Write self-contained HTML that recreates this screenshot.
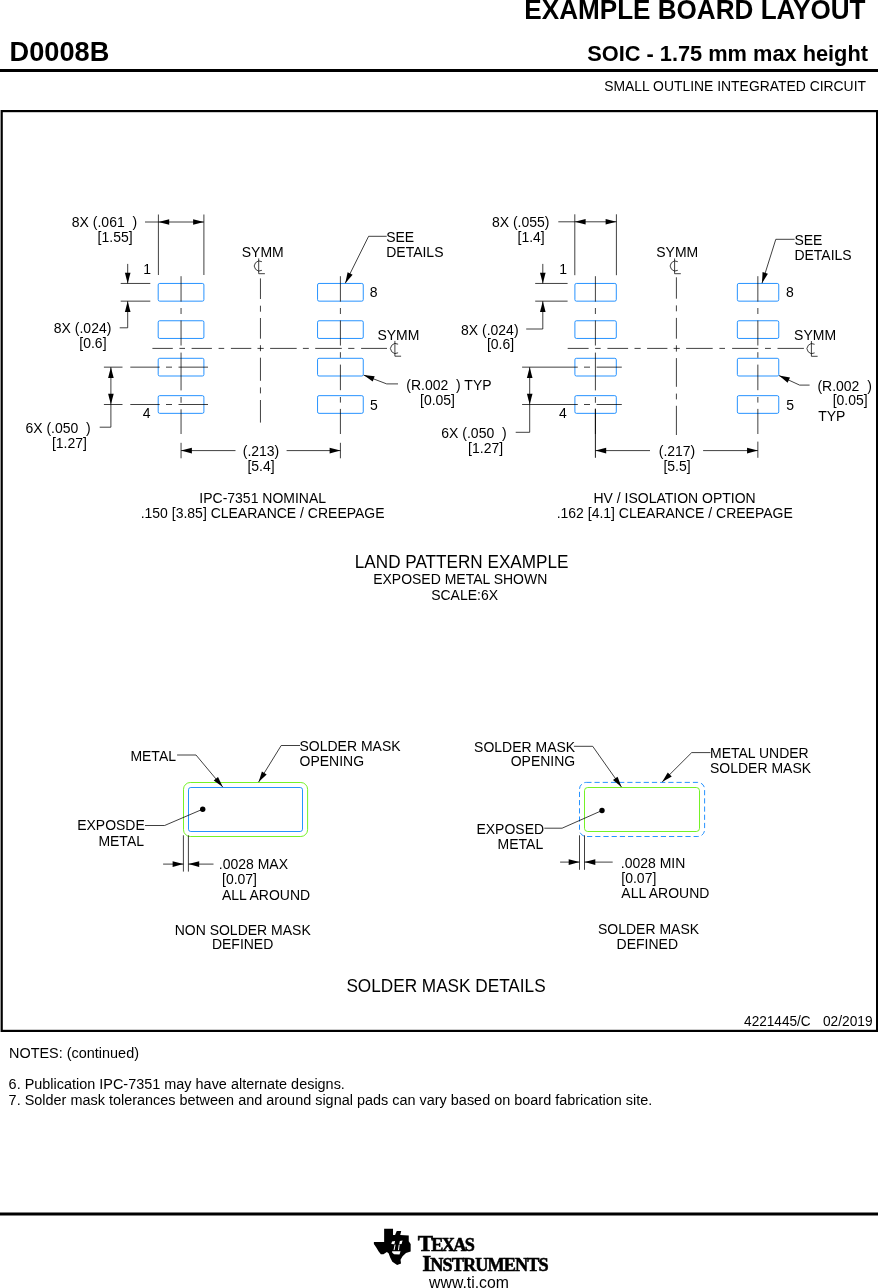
<!DOCTYPE html>
<html lang="en"><head><meta charset="utf-8"><title>D0008B Example Board Layout</title>
<style>html,body{margin:0;padding:0;background:#fff}body{width:878px;height:1288px;overflow:hidden}svg{display:block;will-change:transform}text{font-family:"Liberation Sans",sans-serif;font-size:14px;fill:#000;white-space:pre}</style>
</head><body>
<svg width="878" height="1288" viewBox="0 0 878 1288">
<rect width="878" height="1288" fill="#fff"/>
<text transform="translate(865.50 19.40) scale(1 1.03)" text-anchor="end" style="font-weight:bold;font-size:26.1px">EXAMPLE BOARD LAYOUT</text>
<text transform="translate(9.60 60.90) scale(1 1.03)" style="font-weight:bold;font-size:27.2px">D0008B</text>
<text transform="translate(868.00 61.30) scale(1 1.03)" text-anchor="end" style="font-weight:bold;font-size:21.8px">SOIC - 1.75 mm max height</text>
<line x1="0.00" y1="70.60" x2="878.00" y2="70.60" stroke="#000" stroke-width="3.0" />
<text transform="translate(866.00 90.90) scale(1 1.03)" text-anchor="end" style="font-size:13.9px">SMALL OUTLINE INTEGRATED CIRCUIT</text>
<rect x="1.7" y="111.1" width="875.4" height="919.8" fill="none" stroke="#000" stroke-width="2.2"/>
<rect x="158.20" y="283.45" width="45.70" height="17.70" rx="1.5" fill="none" stroke="#007fff" stroke-width="0.85" />
<rect x="158.20" y="320.75" width="45.70" height="17.70" rx="1.5" fill="none" stroke="#007fff" stroke-width="0.85" />
<rect x="158.20" y="358.30" width="45.70" height="17.70" rx="1.5" fill="none" stroke="#007fff" stroke-width="0.85" />
<rect x="158.20" y="395.65" width="45.70" height="17.70" rx="1.5" fill="none" stroke="#007fff" stroke-width="0.85" />
<rect x="317.55" y="283.45" width="45.70" height="17.70" rx="1.5" fill="none" stroke="#007fff" stroke-width="0.85" />
<rect x="317.55" y="320.75" width="45.70" height="17.70" rx="1.5" fill="none" stroke="#007fff" stroke-width="0.85" />
<rect x="317.55" y="358.30" width="45.70" height="17.70" rx="1.5" fill="none" stroke="#007fff" stroke-width="0.85" />
<rect x="317.55" y="395.65" width="45.70" height="17.70" rx="1.5" fill="none" stroke="#007fff" stroke-width="0.85" />
<line x1="181.05" y1="276.20" x2="181.05" y2="301.60" stroke="#000" stroke-width="0.75" />
<line x1="181.05" y1="308.00" x2="181.05" y2="314.00" stroke="#000" stroke-width="0.75" />
<line x1="181.05" y1="320.50" x2="181.05" y2="345.50" stroke="#000" stroke-width="0.75" />
<line x1="181.05" y1="352.60" x2="181.05" y2="390.40" stroke="#000" stroke-width="0.75" />
<line x1="181.05" y1="397.00" x2="181.05" y2="402.80" stroke="#000" stroke-width="0.75" />
<line x1="181.05" y1="409.30" x2="181.05" y2="434.00" stroke="#000" stroke-width="0.75" />
<line x1="340.40" y1="276.20" x2="340.40" y2="301.60" stroke="#000" stroke-width="0.75" />
<line x1="340.40" y1="308.00" x2="340.40" y2="314.00" stroke="#000" stroke-width="0.75" />
<line x1="340.40" y1="320.50" x2="340.40" y2="345.50" stroke="#000" stroke-width="0.75" />
<line x1="340.40" y1="352.20" x2="340.40" y2="357.80" stroke="#000" stroke-width="0.75" />
<line x1="340.40" y1="364.60" x2="340.40" y2="390.20" stroke="#000" stroke-width="0.75" />
<line x1="340.40" y1="397.00" x2="340.40" y2="402.60" stroke="#000" stroke-width="0.75" />
<line x1="340.40" y1="408.90" x2="340.40" y2="434.00" stroke="#000" stroke-width="0.75" />
<line x1="260.45" y1="278.40" x2="260.45" y2="299.00" stroke="#000" stroke-width="0.75" />
<line x1="260.45" y1="305.70" x2="260.45" y2="311.70" stroke="#000" stroke-width="0.75" />
<line x1="260.45" y1="318.00" x2="260.45" y2="338.70" stroke="#000" stroke-width="0.75" />
<line x1="260.45" y1="345.20" x2="260.45" y2="351.20" stroke="#000" stroke-width="0.75" />
<line x1="260.45" y1="357.70" x2="260.45" y2="380.80" stroke="#000" stroke-width="0.75" />
<line x1="260.45" y1="387.40" x2="260.45" y2="393.40" stroke="#000" stroke-width="0.75" />
<line x1="260.45" y1="400.00" x2="260.45" y2="422.60" stroke="#000" stroke-width="0.75" />
<line x1="152.40" y1="348.40" x2="172.80" y2="348.40" stroke="#000" stroke-width="0.75" />
<line x1="179.40" y1="348.40" x2="185.00" y2="348.40" stroke="#000" stroke-width="0.75" />
<line x1="191.60" y1="348.40" x2="211.90" y2="348.40" stroke="#000" stroke-width="0.75" />
<line x1="218.60" y1="348.40" x2="224.20" y2="348.40" stroke="#000" stroke-width="0.75" />
<line x1="230.90" y1="348.40" x2="251.30" y2="348.40" stroke="#000" stroke-width="0.75" />
<line x1="257.50" y1="348.40" x2="263.70" y2="348.40" stroke="#000" stroke-width="0.75" />
<line x1="270.10" y1="348.40" x2="296.70" y2="348.40" stroke="#000" stroke-width="0.75" />
<line x1="302.90" y1="348.40" x2="308.80" y2="348.40" stroke="#000" stroke-width="0.75" />
<line x1="315.20" y1="348.40" x2="341.80" y2="348.40" stroke="#000" stroke-width="0.75" />
<line x1="348.20" y1="348.40" x2="354.40" y2="348.40" stroke="#000" stroke-width="0.75" />
<line x1="361.10" y1="348.40" x2="387.00" y2="348.40" stroke="#000" stroke-width="0.75" />
<text transform="translate(262.70 257.00) scale(1 1.065)" text-anchor="middle">SYMM</text>
<path d="M261.90,261.70 A5,5 0 1 0 261.90,270.30" fill="none" stroke="#000" stroke-width="0.75"/>
<polyline points="258.70,258.40 258.70,273.70 264.90,273.70" fill="none" stroke="#000" stroke-width="0.75"/>
<text transform="translate(377.40 339.50) scale(1 1.065)">SYMM</text>
<path d="M398.10,344.20 A5,5 0 1 0 398.10,352.80" fill="none" stroke="#000" stroke-width="0.75"/>
<polyline points="394.90,340.90 394.90,356.20 401.10,356.20" fill="none" stroke="#000" stroke-width="0.75"/>
<line x1="158.40" y1="214.50" x2="158.40" y2="275.00" stroke="#000" stroke-width="0.75" />
<line x1="203.90" y1="214.50" x2="203.90" y2="275.00" stroke="#000" stroke-width="0.75" />
<line x1="145.00" y1="222.00" x2="203.90" y2="222.00" stroke="#000" stroke-width="0.75" />
<polygon points="158.40,222.00 169.20,219.20 169.20,224.80" fill="#000"/>
<polygon points="203.90,222.00 193.10,224.80 193.10,219.20" fill="#000"/>
<text transform="translate(71.80 227.40) scale(1 1.065)">8X (.061  )</text>
<text transform="translate(97.60 242.10) scale(1 1.065)">[1.55]</text>
<line x1="120.70" y1="283.45" x2="150.30" y2="283.45" stroke="#000" stroke-width="0.75" />
<line x1="120.70" y1="301.15" x2="150.30" y2="301.15" stroke="#000" stroke-width="0.75" />
<line x1="127.70" y1="263.90" x2="127.70" y2="283.45" stroke="#000" stroke-width="0.75" />
<polygon points="127.70,283.45 124.90,272.65 130.50,272.65" fill="#000"/>
<polyline points="127.70,301.15 127.70,327.80 119.70,327.80" fill="none" stroke="#000" stroke-width="0.75"/>
<polygon points="127.70,301.15 130.50,311.95 124.90,311.95" fill="#000"/>
<text transform="translate(53.80 332.80) scale(1 1.065)">8X (.024)</text>
<text transform="translate(79.30 347.80) scale(1 1.065)">[0.6]</text>
<text transform="translate(143.30 274.40) scale(1 1.065)">1</text>
<text transform="translate(142.70 417.70) scale(1 1.065)">4</text>
<text transform="translate(369.70 297.00) scale(1 1.065)">8</text>
<text transform="translate(370.10 410.00) scale(1 1.065)">5</text>
<line x1="103.90" y1="367.15" x2="122.50" y2="367.15" stroke="#000" stroke-width="0.75" />
<line x1="130.30" y1="367.15" x2="159.70" y2="367.15" stroke="#000" stroke-width="0.75" />
<line x1="166.00" y1="367.15" x2="172.00" y2="367.15" stroke="#000" stroke-width="0.75" />
<line x1="178.50" y1="367.15" x2="208.00" y2="367.15" stroke="#000" stroke-width="0.75" />
<line x1="103.90" y1="404.50" x2="122.50" y2="404.50" stroke="#000" stroke-width="0.75" />
<line x1="130.30" y1="404.50" x2="159.70" y2="404.50" stroke="#000" stroke-width="0.75" />
<line x1="166.00" y1="404.50" x2="172.00" y2="404.50" stroke="#000" stroke-width="0.75" />
<line x1="178.50" y1="404.50" x2="208.00" y2="404.50" stroke="#000" stroke-width="0.75" />
<polyline points="110.90,367.15 110.90,427.20 99.70,427.20" fill="none" stroke="#000" stroke-width="0.75"/>
<polygon points="110.90,367.15 113.70,377.95 108.10,377.95" fill="#000"/>
<polygon points="110.90,404.50 108.10,393.70 113.70,393.70" fill="#000"/>
<text transform="translate(25.40 433.30) scale(1 1.065)">6X (.050  )</text>
<text transform="translate(51.90 447.80) scale(1 1.065)">[1.27]</text>
<line x1="181.05" y1="442.80" x2="181.05" y2="458.30" stroke="#000" stroke-width="0.75" />
<line x1="340.40" y1="442.80" x2="340.40" y2="458.30" stroke="#000" stroke-width="0.75" />
<line x1="181.05" y1="450.60" x2="235.50" y2="450.60" stroke="#000" stroke-width="0.75" />
<line x1="286.60" y1="450.60" x2="340.40" y2="450.60" stroke="#000" stroke-width="0.75" />
<polygon points="181.05,450.60 191.85,447.80 191.85,453.40" fill="#000"/>
<polygon points="340.40,450.60 329.60,453.40 329.60,447.80" fill="#000"/>
<text transform="translate(261.00 455.80) scale(1 1.065)" text-anchor="middle">(.213)</text>
<text transform="translate(261.00 470.70) scale(1 1.065)" text-anchor="middle">[5.4]</text>
<text transform="translate(386.20 241.90) scale(1 1.065)">SEE</text>
<text transform="translate(386.20 256.90) scale(1 1.065)">DETAILS</text>
<polyline points="386.70,236.30 368.60,236.30 345.30,283.20" fill="none" stroke="#000" stroke-width="0.75"/>
<polygon points="345.30,283.20 347.60,272.28 352.61,274.77" fill="#000"/>
<polyline points="398.00,383.90 386.70,383.90 363.60,375.10" fill="none" stroke="#000" stroke-width="0.75"/>
<polygon points="363.60,375.10 374.69,376.33 372.70,381.56" fill="#000"/>
<text transform="translate(406.30 390.00) scale(1 1.065)">(R.002  ) TYP</text>
<text transform="translate(420.00 405.00) scale(1 1.065)">[0.05]</text>
<text transform="translate(262.70 503.00) scale(1 1.065)" text-anchor="middle">IPC-7351 NOMINAL</text>
<text transform="translate(262.60 518.10) scale(1 1.065)" text-anchor="middle">.150 [3.85] CLEARANCE / CREEPAGE</text>
<rect x="574.90" y="283.45" width="41.40" height="17.70" rx="1.5" fill="none" stroke="#007fff" stroke-width="0.85" />
<rect x="574.90" y="320.75" width="41.40" height="17.70" rx="1.5" fill="none" stroke="#007fff" stroke-width="0.85" />
<rect x="574.90" y="358.30" width="41.40" height="17.70" rx="1.5" fill="none" stroke="#007fff" stroke-width="0.85" />
<rect x="574.90" y="395.65" width="41.40" height="17.70" rx="1.5" fill="none" stroke="#007fff" stroke-width="0.85" />
<rect x="737.35" y="283.45" width="41.40" height="17.70" rx="1.5" fill="none" stroke="#007fff" stroke-width="0.85" />
<rect x="737.35" y="320.75" width="41.40" height="17.70" rx="1.5" fill="none" stroke="#007fff" stroke-width="0.85" />
<rect x="737.35" y="358.30" width="41.40" height="17.70" rx="1.5" fill="none" stroke="#007fff" stroke-width="0.85" />
<rect x="737.35" y="395.65" width="41.40" height="17.70" rx="1.5" fill="none" stroke="#007fff" stroke-width="0.85" />
<line x1="595.40" y1="276.20" x2="595.40" y2="301.60" stroke="#000" stroke-width="0.75" />
<line x1="595.40" y1="308.00" x2="595.40" y2="314.00" stroke="#000" stroke-width="0.75" />
<line x1="595.40" y1="320.50" x2="595.40" y2="345.50" stroke="#000" stroke-width="0.75" />
<line x1="595.40" y1="352.60" x2="595.40" y2="390.40" stroke="#000" stroke-width="0.75" />
<line x1="595.40" y1="397.00" x2="595.40" y2="402.80" stroke="#000" stroke-width="0.75" />
<line x1="595.40" y1="409.30" x2="595.40" y2="434.00" stroke="#000" stroke-width="0.75" />
<line x1="757.85" y1="276.20" x2="757.85" y2="301.60" stroke="#000" stroke-width="0.75" />
<line x1="757.85" y1="308.00" x2="757.85" y2="314.00" stroke="#000" stroke-width="0.75" />
<line x1="757.85" y1="320.50" x2="757.85" y2="345.50" stroke="#000" stroke-width="0.75" />
<line x1="757.85" y1="352.20" x2="757.85" y2="357.80" stroke="#000" stroke-width="0.75" />
<line x1="757.85" y1="364.60" x2="757.85" y2="390.20" stroke="#000" stroke-width="0.75" />
<line x1="757.85" y1="397.00" x2="757.85" y2="402.60" stroke="#000" stroke-width="0.75" />
<line x1="757.85" y1="408.90" x2="757.85" y2="434.00" stroke="#000" stroke-width="0.75" />
<line x1="676.40" y1="277.30" x2="676.40" y2="298.70" stroke="#000" stroke-width="0.75" />
<line x1="676.40" y1="305.40" x2="676.40" y2="311.30" stroke="#000" stroke-width="0.75" />
<line x1="676.40" y1="317.90" x2="676.40" y2="338.70" stroke="#000" stroke-width="0.75" />
<line x1="676.40" y1="345.30" x2="676.40" y2="351.60" stroke="#000" stroke-width="0.75" />
<line x1="676.40" y1="358.10" x2="676.40" y2="386.80" stroke="#000" stroke-width="0.75" />
<line x1="676.40" y1="393.60" x2="676.40" y2="399.40" stroke="#000" stroke-width="0.75" />
<line x1="676.40" y1="405.80" x2="676.40" y2="435.00" stroke="#000" stroke-width="0.75" />
<line x1="567.70" y1="348.40" x2="588.60" y2="348.40" stroke="#000" stroke-width="0.75" />
<line x1="595.10" y1="348.40" x2="600.70" y2="348.40" stroke="#000" stroke-width="0.75" />
<line x1="607.40" y1="348.40" x2="628.10" y2="348.40" stroke="#000" stroke-width="0.75" />
<line x1="634.50" y1="348.40" x2="640.70" y2="348.40" stroke="#000" stroke-width="0.75" />
<line x1="647.10" y1="348.40" x2="667.40" y2="348.40" stroke="#000" stroke-width="0.75" />
<line x1="673.60" y1="348.40" x2="679.80" y2="348.40" stroke="#000" stroke-width="0.75" />
<line x1="686.10" y1="348.40" x2="712.70" y2="348.40" stroke="#000" stroke-width="0.75" />
<line x1="719.40" y1="348.40" x2="725.00" y2="348.40" stroke="#000" stroke-width="0.75" />
<line x1="732.10" y1="348.40" x2="758.30" y2="348.40" stroke="#000" stroke-width="0.75" />
<line x1="765.00" y1="348.40" x2="770.90" y2="348.40" stroke="#000" stroke-width="0.75" />
<line x1="777.50" y1="348.40" x2="803.90" y2="348.40" stroke="#000" stroke-width="0.75" />
<text transform="translate(677.20 257.00) scale(1 1.065)" text-anchor="middle">SYMM</text>
<path d="M677.80,261.70 A5,5 0 1 0 677.80,270.30" fill="none" stroke="#000" stroke-width="0.75"/>
<polyline points="674.60,258.40 674.60,273.70 680.80,273.70" fill="none" stroke="#000" stroke-width="0.75"/>
<text transform="translate(794.10 339.60) scale(1 1.065)">SYMM</text>
<path d="M814.60,344.30 A5,5 0 1 0 814.60,352.90" fill="none" stroke="#000" stroke-width="0.75"/>
<polyline points="811.40,341.00 811.40,356.30 817.60,356.30" fill="none" stroke="#000" stroke-width="0.75"/>
<line x1="574.80" y1="214.30" x2="574.80" y2="275.20" stroke="#000" stroke-width="0.75" />
<line x1="616.40" y1="214.30" x2="616.40" y2="275.20" stroke="#000" stroke-width="0.75" />
<line x1="558.30" y1="221.80" x2="616.40" y2="221.80" stroke="#000" stroke-width="0.75" />
<polygon points="574.80,221.80 585.60,219.00 585.60,224.60" fill="#000"/>
<polygon points="616.40,221.80 605.60,224.60 605.60,219.00" fill="#000"/>
<text transform="translate(491.90 227.20) scale(1 1.065)">8X (.055)</text>
<text transform="translate(517.50 242.10) scale(1 1.065)">[1.4]</text>
<line x1="535.20" y1="283.45" x2="567.60" y2="283.45" stroke="#000" stroke-width="0.75" />
<line x1="535.20" y1="301.15" x2="567.60" y2="301.15" stroke="#000" stroke-width="0.75" />
<line x1="542.80" y1="263.90" x2="542.80" y2="283.45" stroke="#000" stroke-width="0.75" />
<polygon points="542.80,283.45 540.00,272.65 545.60,272.65" fill="#000"/>
<polyline points="542.80,301.15 542.80,329.00 526.20,329.00" fill="none" stroke="#000" stroke-width="0.75"/>
<polygon points="542.80,301.15 545.60,311.95 540.00,311.95" fill="#000"/>
<text transform="translate(461.00 334.60) scale(1 1.065)">8X (.024)</text>
<text transform="translate(486.90 349.00) scale(1 1.065)">[0.6]</text>
<text transform="translate(559.20 274.40) scale(1 1.065)">1</text>
<text transform="translate(559.00 417.70) scale(1 1.065)">4</text>
<text transform="translate(786.10 297.00) scale(1 1.065)">8</text>
<text transform="translate(786.30 410.30) scale(1 1.065)">5</text>
<line x1="522.10" y1="367.15" x2="577.80" y2="367.15" stroke="#000" stroke-width="0.75" />
<line x1="584.00" y1="367.15" x2="590.00" y2="367.15" stroke="#000" stroke-width="0.75" />
<line x1="596.60" y1="367.15" x2="621.80" y2="367.15" stroke="#000" stroke-width="0.75" />
<line x1="522.10" y1="404.50" x2="577.80" y2="404.50" stroke="#000" stroke-width="0.75" />
<line x1="584.00" y1="404.50" x2="590.00" y2="404.50" stroke="#000" stroke-width="0.75" />
<line x1="596.60" y1="404.50" x2="621.80" y2="404.50" stroke="#000" stroke-width="0.75" />
<polyline points="529.70,367.15 529.70,432.30 515.70,432.30" fill="none" stroke="#000" stroke-width="0.75"/>
<polygon points="529.70,367.15 532.50,377.95 526.90,377.95" fill="#000"/>
<polygon points="529.70,404.50 526.90,393.70 532.50,393.70" fill="#000"/>
<text transform="translate(441.30 438.30) scale(1 1.065)">6X (.050  )</text>
<text transform="translate(468.10 452.80) scale(1 1.065)">[1.27]</text>
<line x1="595.40" y1="408.60" x2="595.40" y2="457.80" stroke="#000" stroke-width="0.9" />
<line x1="757.85" y1="441.60" x2="757.85" y2="457.80" stroke="#000" stroke-width="0.75" />
<line x1="595.40" y1="450.60" x2="650.00" y2="450.60" stroke="#000" stroke-width="0.75" />
<line x1="703.10" y1="450.60" x2="757.85" y2="450.60" stroke="#000" stroke-width="0.75" />
<polygon points="595.40,450.60 606.20,447.80 606.20,453.40" fill="#000"/>
<polygon points="757.85,450.60 747.05,453.40 747.05,447.80" fill="#000"/>
<text transform="translate(677.00 455.90) scale(1 1.065)" text-anchor="middle">(.217)</text>
<text transform="translate(677.00 470.80) scale(1 1.065)" text-anchor="middle">[5.5]</text>
<text transform="translate(794.40 244.60) scale(1 1.065)">SEE</text>
<text transform="translate(794.40 259.60) scale(1 1.065)">DETAILS</text>
<polyline points="794.60,239.30 775.80,239.30 762.00,283.20" fill="none" stroke="#000" stroke-width="0.75"/>
<polygon points="762.00,283.20 762.57,272.06 767.91,273.74" fill="#000"/>
<polyline points="809.60,385.10 799.60,385.10 779.00,375.60" fill="none" stroke="#000" stroke-width="0.75"/>
<polygon points="779.00,375.60 789.98,377.58 787.63,382.67" fill="#000"/>
<text transform="translate(817.40 390.90) scale(1 1.065)">(R.002  )</text>
<text transform="translate(832.70 405.20) scale(1 1.065)">[0.05]</text>
<text transform="translate(818.20 420.70) scale(1 1.065)">TYP</text>
<text transform="translate(674.60 503.00) scale(1 1.065)" text-anchor="middle">HV / ISOLATION OPTION</text>
<text transform="translate(674.70 518.10) scale(1 1.065)" text-anchor="middle">.162 [4.1] CLEARANCE / CREEPAGE</text>
<text transform="translate(461.60 567.90) scale(1 1.03)" text-anchor="middle" style="font-size:17.15px">LAND PATTERN EXAMPLE</text>
<text transform="translate(460.20 583.70) scale(1 1.065)" text-anchor="middle">EXPOSED METAL SHOWN</text>
<text transform="translate(464.60 599.60) scale(1 1.065)" text-anchor="middle">SCALE:6X</text>
<rect x="183.50" y="782.50" width="124.10" height="54.00" rx="6.8" fill="none" stroke="#5cf000" stroke-width="0.85" />
<rect x="188.50" y="787.50" width="114.00" height="44.00" rx="2.3" fill="none" stroke="#007fff" stroke-width="0.85" />
<circle cx="202.7" cy="809.2" r="2.7" fill="#000"/>
<polyline points="202.70,809.20 164.60,825.50 145.00,825.50" fill="none" stroke="#000" stroke-width="0.75"/>
<text transform="translate(144.80 830.40) scale(1 1.065)" text-anchor="end">EXPOSDE</text>
<text transform="translate(144.00 845.50) scale(1 1.065)" text-anchor="end">METAL</text>
<text transform="translate(176.00 761.00) scale(1 1.065)" text-anchor="end">METAL</text>
<polyline points="177.10,755.00 196.00,755.00 222.80,787.10" fill="none" stroke="#000" stroke-width="0.75"/>
<polygon points="222.80,787.10 213.73,780.60 218.03,777.02" fill="#000"/>
<text transform="translate(299.50 751.20) scale(1 1.065)">SOLDER MASK</text>
<text transform="translate(299.50 765.90) scale(1 1.065)">OPENING</text>
<polyline points="300.00,745.50 281.20,745.50 258.60,782.10" fill="none" stroke="#000" stroke-width="0.75"/>
<polygon points="258.60,782.10 261.89,771.44 266.66,774.38" fill="#000"/>
<line x1="183.40" y1="835.30" x2="183.40" y2="871.60" stroke="#000" stroke-width="0.75" />
<line x1="188.40" y1="835.30" x2="188.40" y2="871.60" stroke="#000" stroke-width="0.75" />
<line x1="163.10" y1="864.10" x2="183.40" y2="864.10" stroke="#000" stroke-width="0.75" />
<polygon points="183.40,864.10 172.60,866.90 172.60,861.30" fill="#000"/>
<line x1="188.40" y1="864.10" x2="213.50" y2="864.10" stroke="#000" stroke-width="0.75" />
<polygon points="188.40,864.10 199.20,861.30 199.20,866.90" fill="#000"/>
<text transform="translate(218.80 868.80) scale(1 1.065)">.0028 MAX</text>
<text transform="translate(222.00 883.50) scale(1 1.065)">[0.07]</text>
<text transform="translate(222.00 899.50) scale(1 1.065)">ALL AROUND</text>
<text transform="translate(242.70 935.00) scale(1 1.065)" text-anchor="middle">NON SOLDER MASK</text>
<text transform="translate(242.60 949.40) scale(1 1.065)" text-anchor="middle">DEFINED</text>
<rect x="579.50" y="782.40" width="125.10" height="54.10" rx="6.8" fill="none" stroke="#007fff" stroke-width="0.85" stroke-dasharray="5.2 3.0"/>
<rect x="584.50" y="787.50" width="115.00" height="44.00" rx="3.2" fill="none" stroke="#5cf000" stroke-width="0.85" />
<circle cx="602" cy="810.5" r="2.7" fill="#000"/>
<polyline points="602.00,810.50 562.10,828.20 544.30,828.20" fill="none" stroke="#000" stroke-width="0.75"/>
<text transform="translate(544.10 834.00) scale(1 1.065)" text-anchor="end">EXPOSED</text>
<text transform="translate(543.20 848.90) scale(1 1.065)" text-anchor="end">METAL</text>
<text transform="translate(575.20 751.80) scale(1 1.065)" text-anchor="end">SOLDER MASK</text>
<text transform="translate(575.20 766.40) scale(1 1.065)" text-anchor="end">OPENING</text>
<polyline points="573.90,746.30 592.70,746.30 621.50,787.10" fill="none" stroke="#000" stroke-width="0.75"/>
<polygon points="621.50,787.10 612.98,779.89 617.56,776.66" fill="#000"/>
<text transform="translate(710.00 757.70) scale(1 1.065)">METAL UNDER</text>
<text transform="translate(710.00 772.50) scale(1 1.065)">SOLDER MASK</text>
<polyline points="710.50,752.60 691.70,752.60 662.10,782.10" fill="none" stroke="#000" stroke-width="0.75"/>
<polygon points="662.10,782.10 667.77,772.49 671.73,776.46" fill="#000"/>
<line x1="579.50" y1="835.30" x2="579.50" y2="869.80" stroke="#000" stroke-width="0.75" />
<line x1="584.50" y1="835.30" x2="584.50" y2="869.80" stroke="#000" stroke-width="0.75" />
<line x1="560.10" y1="862.10" x2="579.50" y2="862.10" stroke="#000" stroke-width="0.75" />
<polygon points="579.50,862.10 568.70,864.90 568.70,859.30" fill="#000"/>
<line x1="584.50" y1="862.10" x2="612.70" y2="862.10" stroke="#000" stroke-width="0.75" />
<polygon points="584.50,862.10 595.30,859.30 595.30,864.90" fill="#000"/>
<text transform="translate(620.80 868.00) scale(1 1.065)">.0028 MIN</text>
<text transform="translate(621.30 882.80) scale(1 1.065)">[0.07]</text>
<text transform="translate(621.30 897.70) scale(1 1.065)">ALL AROUND</text>
<text transform="translate(648.50 934.10) scale(1 1.065)" text-anchor="middle">SOLDER MASK</text>
<text transform="translate(647.30 948.70) scale(1 1.065)" text-anchor="middle">DEFINED</text>
<text transform="translate(446.00 992.00) scale(1 1.03)" text-anchor="middle" style="font-size:17.2px">SOLDER MASK DETAILS</text>
<text transform="translate(744.10 1026.00) scale(1 1.03)" style="font-size:13.6px">4221445/C</text>
<text transform="translate(872.60 1026.00) scale(1 1.03)" text-anchor="end" style="font-size:13.75px">02/2019</text>
<text transform="translate(9.00 1058.10) scale(1 1.03)" style="font-size:14.45px">NOTES: (continued)</text>
<text transform="translate(8.60 1089.00) scale(1 1.03)" style="font-size:14.45px">6. Publication IPC-7351 may have alternate designs.</text>
<text transform="translate(8.60 1104.50) scale(1 1.03)" style="font-size:14.45px">7. Solder mask tolerances between and around signal pads can vary based on board fabrication site.</text>
<line x1="0.00" y1="1214.00" x2="878.00" y2="1214.00" stroke="#000" stroke-width="3.2" />
<polygon fill="#000" points="384.14,1228.80 393.02,1228.80 393.02,1235.09 395.08,1235.09 396.78,1230.99 401.23,1230.99 400.20,1235.09 408.75,1235.43 408.75,1241.24 410.66,1243.97 410.66,1251.49 406.01,1253.00 402.59,1256.28 400.54,1259.83 401.02,1263.45 397.13,1264.89 392.34,1261.75 390.29,1257.64 388.58,1253.20 386.87,1252.04 383.46,1254.36 380.86,1254.36 378.67,1251.49 376.28,1247.39 373.89,1243.97 373.89,1242.06 384.14,1242.06"/>
<polygon fill="#fff" points="392.00,1241.58 395.08,1240.90 394.39,1244.32 391.32,1243.97"/>
<polygon fill="#fff" points="399.86,1240.90 402.59,1240.56 401.57,1243.97 399.18,1244.32"/>
<polygon fill="#fff" points="392.00,1251.15 400.54,1251.36 399.52,1254.57 394.05,1254.36 392.34,1252.86"/>
<polyline fill="none" stroke="#fff" stroke-width="1.0" points="395.08,1244.66 394.05,1250.13"/>
<polyline fill="none" stroke="#fff" stroke-width="1.0" points="399.18,1244.66 398.49,1250.13"/>
<text x="417.7" y="1251.1" textLength="57.2" lengthAdjust="spacing" style="font-family:'Liberation Serif',serif;font-weight:bold;font-size:18.2px;stroke:#000;stroke-width:0.55px"><tspan style="font-size:23px">T</tspan>EXAS</text>
<text x="422.3" y="1270.6" textLength="126.4" lengthAdjust="spacing" style="font-family:'Liberation Serif',serif;font-weight:bold;font-size:18.2px;stroke:#000;stroke-width:0.55px"><tspan style="font-size:23px">I</tspan>NSTRUMENTS</text>
<text transform="translate(469.00 1287.70) scale(1 1.03)" text-anchor="middle" style="font-size:15.8px">www.ti.com</text>
</svg></body></html>
